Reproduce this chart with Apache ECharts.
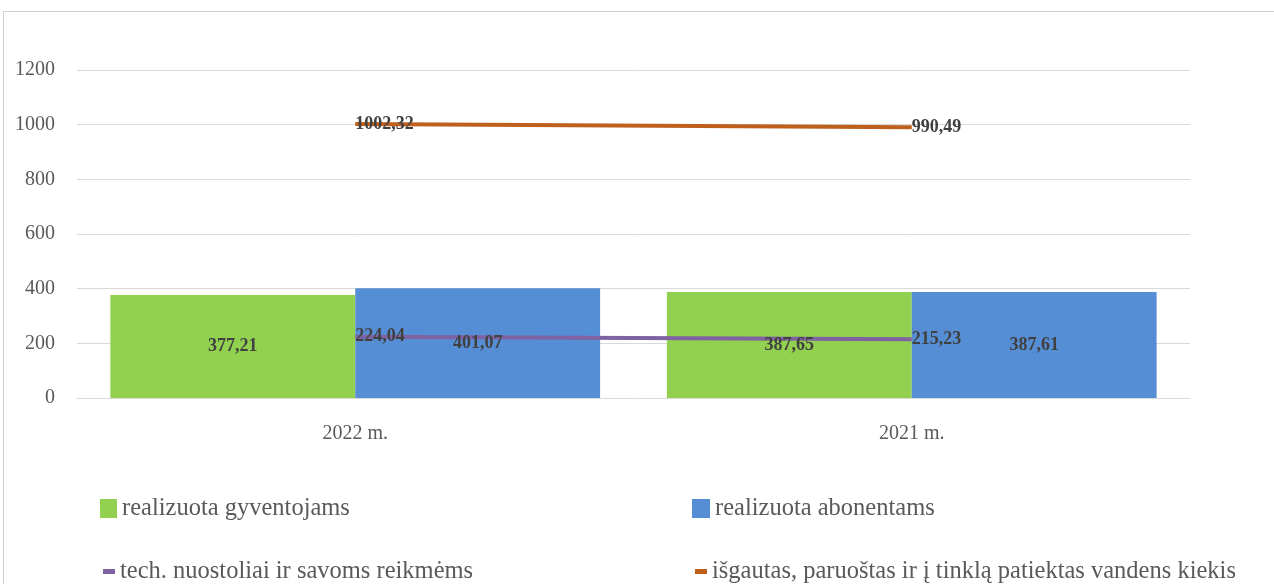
<!DOCTYPE html>
<html>
<head>
<meta charset="utf-8">
<script src="https://cdn.jsdelivr.net/npm/echarts@6/dist/echarts.min.js"></script>
<style>html,body{margin:0;padding:0;background:#fff}#c{width:1274px;height:584px}</style>
</head>
<body>
<div id="c"></div>
<script>
var categories = ['2022 m.', '2021 m.'];
var gyventojams = [377.21, 387.65];
var abonentams = [401.07, 387.61];
var nuostoliai = [224.04, 215.23];
var isgautas = [1002.32, 990.49];
var yTicks = [0, 200, 400, 600, 800, 1000, 1200];

var names = ['realizuota gyventojams', 'realizuota abonentams', 'tech. nuostoliai ir savoms reikmėms', 'išgautas, paruoštas ir į tinklą patiektas vandens kiekis'];
var serif = '"Liberation Serif", "DejaVu Serif", serif';
function fmt(p){ return p.value.toFixed(2).replace('.', ','); }
var barLabel = {show:true, position:'inside', formatter:fmt, fontFamily:serif, fontWeight:'bold', fontSize:18, color:'#404040'};
var lineLabel = {show:true, position:'right', distance:0, formatter:fmt, fontFamily:serif, fontWeight:'bold', fontSize:18, color:'#404040'};
var legendText = {fontFamily:serif, fontSize:24.5, color:'#595959'};
var xAxisBase = {type:'category', data:categories, axisTick:{show:false},
    axisLine:{lineStyle:{color:'#d9d9d9'}},
    axisLabel:{fontFamily:serif, fontSize:20, color:'#595959', margin:26}};

var chart = echarts.init(document.getElementById('c'), null, {renderer:'canvas'});
chart.setOption({
  animation:false,
  backgroundColor:'#fff',
  graphic:[{type:'rect', shape:{x:3.5, y:11.5, width:1400, height:700}, style:{fill:'none', stroke:'#d0d0d0', lineWidth:1}, silent:true, z:-10}],
  grid:{left:77, right:84, top:70, bottom:186},
  legend:[
    {data:[{name:names[0], icon:'rect'}], left:100, top:496, padding:0, itemWidth:17, itemHeight:19, textStyle:legendText, selectedMode:false},
    {data:[{name:names[1], icon:'rect'}], left:692, top:496, padding:0, itemWidth:18, itemHeight:19, textStyle:legendText, selectedMode:false},
    {data:[{name:names[2], icon:'rect'}], left:103, top:559, padding:0, itemWidth:12, itemHeight:5, textStyle:legendText, selectedMode:false},
    {data:[{name:names[3], icon:'rect'}], left:695, top:559, padding:0, itemWidth:12, itemHeight:5, textStyle:legendText, selectedMode:false}
  ],
  xAxis:[xAxisBase, Object.assign({}, xAxisBase, {show:false})],
  yAxis:{type:'value', min:yTicks[0], max:yTicks[yTicks.length-1], interval:200,
    axisLabel:{fontFamily:serif, fontSize:20, color:'#595959', margin:22, formatter:function(v){return String(v);}},
    splitLine:{lineStyle:{color:'#d9d9d9'}}, axisLine:{show:false}, axisTick:{show:false}},
  series:[
    {name:names[0], type:'bar', data:gyventojams, itemStyle:{color:'#92D050'}, barGap:'0%', barCategoryGap:'12%', z:2},
    {name:names[1], type:'bar', data:abonentams, itemStyle:{color:'#558ED5'}, barGap:'0%', barCategoryGap:'12%', z:2},
    {name:names[2], type:'line', data:nuostoliai, symbol:'circle', symbolSize:0, showSymbol:true, lineStyle:{color:'#7E62A1', width:4}, itemStyle:{color:'#7E62A1'}, label:lineLabel, z:3},
    {name:names[3], type:'line', data:isgautas, symbol:'circle', symbolSize:0, showSymbol:true, lineStyle:{color:'#BE5F1C', width:4}, itemStyle:{color:'#BE5F1C'}, label:lineLabel, z:3},
    {name:'lbl1', type:'bar', xAxisIndex:1, data:gyventojams, itemStyle:{color:'transparent'}, barGap:'0%', barCategoryGap:'12%', label:barLabel, z:5, silent:true},
    {name:'lbl2', type:'bar', xAxisIndex:1, data:abonentams, itemStyle:{color:'transparent'}, barGap:'0%', barCategoryGap:'12%', label:barLabel, z:5, silent:true}
  ]
});
</script>
</body>
</html>
